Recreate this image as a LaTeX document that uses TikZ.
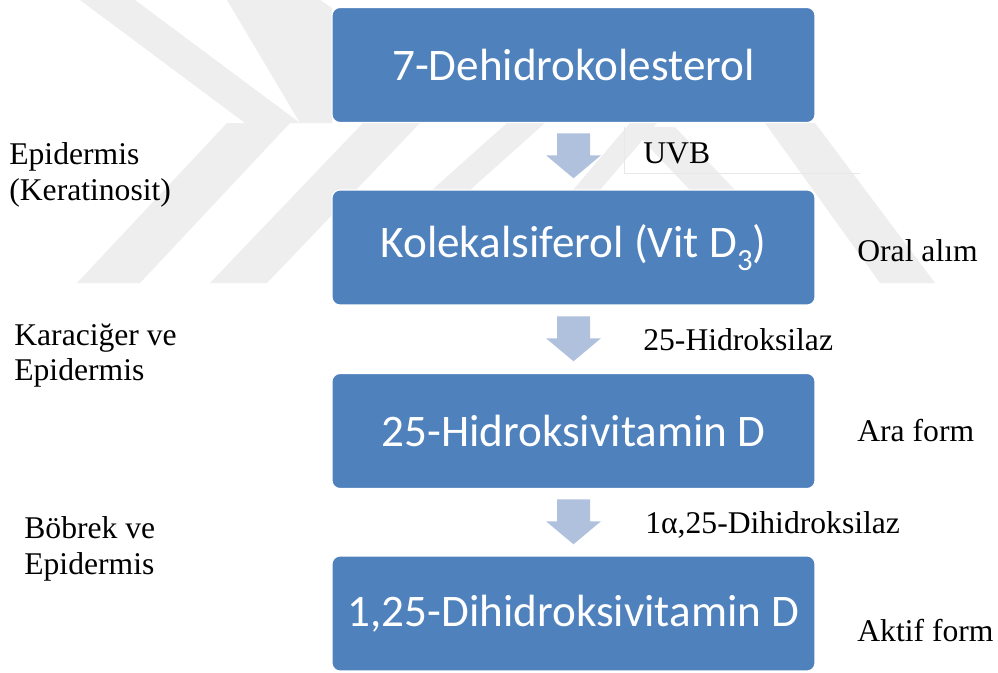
\documentclass[tikz,border=0pt]{standalone}
\usepackage{fontspec}
\setmainfont{Liberation Serif}
\newfontfamily\boxfont{Carlito}
\definecolor{boxblue}{HTML}{4F81BD}
\definecolor{arrowblue}{HTML}{B0C1DE}
\definecolor{wm}{HTML}{EEEEEE}
\begin{document}
\begin{tikzpicture}[x=0.02cm,y=-0.02cm,
  stepbox/.style={rectangle, rounded corners=0.16cm, fill=boxblue, draw=white, line width=0.6pt,
    minimum width=9.66cm, minimum height=2.3cm, inner sep=0pt, text=white,
    font=\boxfont\fontsize{25.7}{30}\selectfont},
  flow/.style={fill=arrowblue, draw=none},
  lbl/.style={inner sep=0pt, font=\fontsize{18}{20.4}\selectfont, align=left}]
% canvas
\fill[white] (0,0) rectangle (998,673);
\useasboundingbox (0,0) rectangle (998,673);
% faint watermark
\begin{scope}[fill=wm]
  \fill (80,0) -- (135,0) -- (300,123) -- (245,123) -- cycle;
  \fill (227,0) -- (320,0) -- (332,8) -- (332,123) -- (300,123) -- cycle;
  \fill (227,123) -- (290,123) -- (140,283) -- (77,283) -- cycle;
  \fill (363,123) -- (420,123) -- (267,283) -- (210,283) -- cycle;
  \fill (507,123) -- (545,123) -- (470,190) -- (432,190) -- cycle;
  \fill (630,123) -- (657,123) -- (600,190) -- (573,190) -- cycle;
  \fill (630,127) -- (675,127) -- (735,190) -- (690,190) -- cycle;
  \fill (765,123) -- (815,123) -- (935,283) -- (880,283) -- cycle;
\end{scope}
\draw[black!9, line width=0.4pt] (624,127) -- (624,173) -- (860,173);
% boxes
\node[stepbox] (b1) at (573.5,65) {7-Dehidrokolesterol};
\node[stepbox] (b2) at (573.5,247.5) {Kolekalsiferol (Vit D\raisebox{-0.3em}{\fontsize{17.5}{17.5}\selectfont 3})};
\node[stepbox] (b3) at (573.5,431) {25-Hidroksivitamin D};
\node[stepbox] (b4) at (573.5,613.5) {1,25-Dihidroksivitamin D};
% arrows (block arrows centred between the boxes)
\path (b1.south) -- (b2.north) coordinate[midway] (m1);
\path (b2.south) -- (b3.north) coordinate[midway] (m2);
\path (b3.south) -- (b4.north) coordinate[midway] (m3);
\foreach \m in {m1,m2,m3}{
  \fill[flow, shift={(\m)}] (-16.5,-23) -- (16.5,-23) -- (16.5,-1) -- (27.5,-1)
    -- (0,22) -- (-27.5,-1) -- (-16.5,-1) -- cycle;
}
% right labels
\node[lbl, anchor=base west] (uvb) at (643,163) {UVB};
\node[lbl, anchor=base west] (hyd) at (643,350) {25-Hidroksilaz};
\node[lbl, anchor=base west] (dihyd) at (645,533) {1α,25-Dihidroksilaz};
\node[lbl, anchor=base west] (oral) at (857,261) {Oral alım};
\node[lbl, anchor=base west] (ara) at (857,441) {Ara form};
\node[lbl, anchor=base west] (aktif) at (857,641) {Aktif form};
% left labels
\node[lbl, anchor=west] (epi) at (9,175) {Epidermis\\(Keratinosit)};
\node[lbl, anchor=west] (kar) at (14,355.6) {Karaciğer ve\\Epidermis};
\node[lbl, anchor=west] (bob) at (24,548.6) {Böbrek ve\\Epidermis};
\end{tikzpicture}
\end{document}
